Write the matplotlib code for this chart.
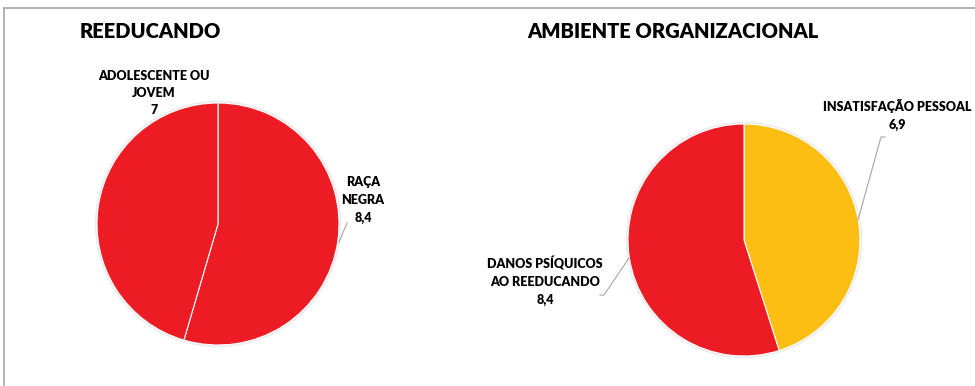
import matplotlib.pyplot as plt
from matplotlib.patches import Circle

# data
left_title = 'REEDUCANDO'
left_labels = ['RAÇA\nNEGRA', 'ADOLESCENTE OU\nJOVEM']
left_values = [8.4, 7]
right_title = 'AMBIENTE ORGANIZACIONAL'
right_labels = ['INSATISFAÇÃO PESSOAL', 'DANOS PSÍQUICOS\nAO REEDUCANDO']
right_values = [6.9, 8.4]

RED = '#ED1C24'
YELLOW = '#FDBE14'
GREY = '#a6a6a6'
H = 386

plt.rcParams['font.family'] = ['Lato', 'DejaVu Sans']

fig = plt.figure(figsize=(9.75, 3.86), dpi=100)
ax = fig.add_axes([0, 0, 1, 1])


def fmt(v):
    s = f'{v:g}'
    return s.replace('.', ',')


def draw_pie(values, colors, cx, cy, r):
    # soft rim like the original shadow
    ax.add_patch(Circle((cx, H - cy), r + 1.5, color='#ececec', zorder=0))
    ax.pie(values, colors=colors, startangle=90, counterclock=False,
           center=(cx, H - cy), radius=r,
           wedgeprops=dict(edgecolor='white', linewidth=0.8))


draw_pie(left_values, [RED, RED], 218, 224, 121)
draw_pie(right_values, [YELLOW, RED], 744, 240, 116)

# titles
ax.text(80, H - 31, left_title, fontsize=14.5, fontweight='heavy', ha='left', va='center')
ax.text(527, H - 31, right_title, fontsize=14.5, fontweight='heavy', ha='left', va='center')

lab = dict(fontsize=9, fontweight='heavy', ha='center', va='center', linespacing=1.55)
ax.text(154, H - 93, left_labels[1] + '\n' + fmt(left_values[1]), **lab)
ax.text(363, H - 200, left_labels[0] + '\n' + fmt(left_values[0]), **lab)
ax.text(897, H - 115, right_labels[0] + '\n' + fmt(right_values[0]), **lab)
ax.text(545, H - 281, right_labels[1] + '\n' + fmt(right_values[1]), **lab)

# leader lines
ln = dict(color=GREY, linewidth=0.8)
ax.plot([347, 339], [H - 223, H - 242], **ln)
ax.plot([885, 881, 858], [H - 137, H - 137, H - 220], **ln)
ax.plot([600, 604, 629], [H - 295, H - 295, H - 258], **ln)

# frame lines (top and left)
ax.plot([4, 975], [H - 8, H - 8], color=GREY, linewidth=1.2)
ax.plot([4, 4], [H - 8, 0], color=GREY, linewidth=1.2)

ax.set_xlim(0, 975)
ax.set_ylim(0, H)
ax.set_aspect('auto')
ax.axis('off')

plt.savefig('out.png', dpi=100)
plt.close()
